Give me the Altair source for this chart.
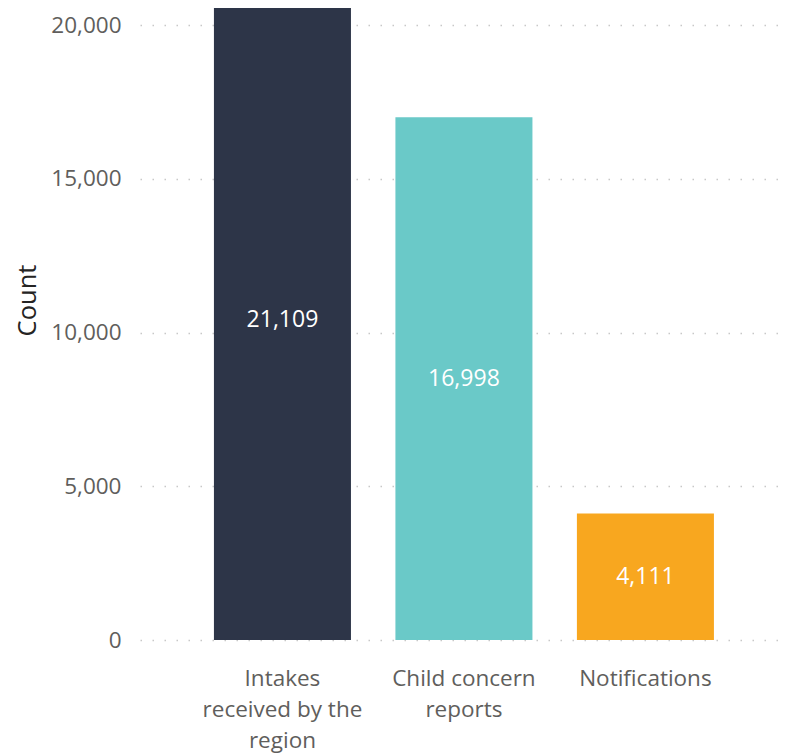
import altair as alt
import pandas as pd
import json

categories = ["Intakes received by the region", "Child concern reports", "Notifications"]
label_lines = [["Intakes", "received by the", "region"], ["Child concern", "reports"], ["Notifications"]]
values = [21109, 16998, 4111]
colors = ["#2D3548", "#6AC9C8", "#F8A71F"]
y_ticks = [0, 5000, 10000, 15000, 20000]
y_max = 20553
label_cap = 20813

df = pd.DataFrame({"category": categories, "value": values})

expr = "datum.label"
for cat, lines in zip(reversed(categories), reversed(label_lines)):
    expr = f"datum.label == {json.dumps(cat)} ? {json.dumps(lines)} : ({expr})"

FONT = "Open Sans"

x_axis = alt.Axis(
    labelAngle=0,
    labelExpr=expr,
    labelFont=FONT,
    labelFontSize=22.5,
    labelColor="#605E5C",
    labelLineHeight=31,
    labelPadding=27,
    labelBaseline="top",
    ticks=False,
    domain=False,
    grid=False,
)
x_scale = alt.Scale(paddingInner=0.245, paddingOuter=0.394, align=0.517)

y_axis = alt.Axis(
    values=y_ticks,
    format=",.0f",
    labelFont=FONT,
    labelFontSize=22.5,
    labelColor="#605E5C",
    labelPadding=19,
    ticks=False,
    domain=False,
    grid=True,
    gridColor="#C8C8C8",
    gridDash=[1.5, 10.5],
    gridWidth=1.5,
    titleFont=FONT,
    titleFontSize=25.5,
    titleColor="#252423",
    titleFontWeight="normal",
    titleAngle=-90,
    titleX=-113,
    titleY=292,
    titleAlign="center",
    titleBaseline="middle",
)
y_scale = alt.Scale(domain=[0, y_max], nice=False, zero=True)

bars = alt.Chart(df).mark_bar(clip=True).encode(
    x=alt.X("category:N", sort=categories, title=None, scale=x_scale, axis=x_axis),
    y=alt.Y("value:Q", scale=y_scale, title="Count", axis=y_axis),
    color=alt.Color("category:N", scale=alt.Scale(domain=categories, range=colors), legend=None),
)

text = alt.Chart(df).transform_calculate(
    mid=f"min(datum.value, {label_cap}) / 2"
).mark_text(
    font=FONT, fontSize=23, color="white", align="center", baseline="middle"
).encode(
    x=alt.X("category:N", sort=categories, title=None, scale=x_scale, axis=x_axis),
    y=alt.Y("mid:Q", scale=y_scale, title="Count", axis=y_axis),
    text=alt.Text("value:Q", format=","),
)

chart = (
    alt.layer(bars, text)
    .properties(
        width=643,
        height=632,
        background="white",
        autosize=alt.AutoSizeParams(type="none"),
        padding={"left": 132, "top": 0, "right": 0, "bottom": 115},
    )
    .configure_view(stroke="transparent", strokeWidth=0)
)

chart.save("out.html", embed_options={"renderer": "svg", "actions": False})
